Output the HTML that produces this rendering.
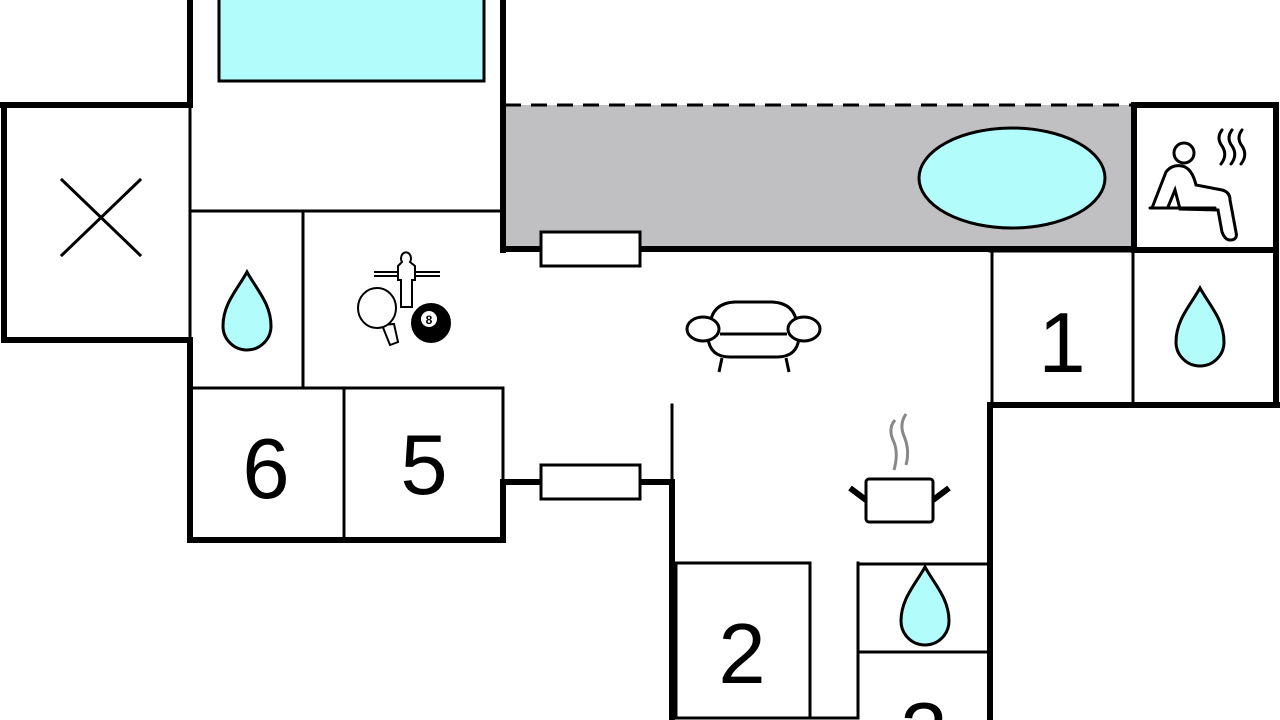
<!DOCTYPE html>
<html><head><meta charset="utf-8"><style>html,body{margin:0;padding:0;background:#fff;width:1280px;height:720px;overflow:hidden;}svg{display:block}</style></head>
<body>
<svg width="1280" height="720" viewBox="0 0 1280 720" xmlns="http://www.w3.org/2000/svg" font-family="Liberation Sans, sans-serif" overflow="hidden">
<defs>
<path id="drop" d="M0,-40 C10,-22 24,-8 24,14 A24,24 0 0 1 -24,14 C-24,-8 -10,-22 0,-40Z" fill="#b3fcfc" stroke="#000" stroke-width="3"/>
</defs>
<rect width="1280" height="720" fill="#fff"/>
<rect x="505" y="105" width="628" height="143" fill="#c0c0c2"/>
<line x1="505" y1="105" x2="1133" y2="105" stroke="#000" stroke-width="3" stroke-dasharray="16,10"/>
<ellipse cx="1012" cy="178" rx="93" ry="50" fill="#b3fcfc" stroke="#000" stroke-width="3"/>
<rect x="219" y="-5" width="265" height="86" fill="#b3fcfc" stroke="#000" stroke-width="3"/>
<g stroke="#000" fill="none" stroke-linecap="square">
<g stroke-width="6">
<line x1="190" y1="0" x2="190" y2="105"/>
<line x1="0" y1="105" x2="190" y2="105"/>
<line x1="4" y1="105" x2="4" y2="340"/>
<line x1="4" y1="340" x2="190" y2="340"/>
<line x1="190" y1="340" x2="190" y2="540"/>
<line x1="190" y1="540" x2="503" y2="540"/>
<line x1="503" y1="482" x2="503" y2="540"/>
<line x1="503" y1="482" x2="672" y2="482"/>
<line x1="672" y1="482" x2="672" y2="717"/>
<line x1="503" y1="0" x2="503" y2="250"/>
<line x1="503" y1="249" x2="1133" y2="249"/>
<rect x="1134" y="105" width="142" height="145"/>
<line x1="1276" y1="105" x2="1276" y2="405"/>
<line x1="990" y1="405" x2="1280" y2="405"/>
<line x1="990" y1="405" x2="990" y2="717"/>
</g>
<g stroke-width="3">
<line x1="190" y1="105" x2="190" y2="340"/>
<line x1="190" y1="211" x2="503" y2="211"/>
<line x1="303" y1="211" x2="303" y2="388"/>
<line x1="190" y1="388" x2="503" y2="388"/>
<line x1="344" y1="388" x2="344" y2="540"/>
<line x1="503" y1="388" x2="503" y2="482"/>
<line x1="672" y1="405" x2="672" y2="482"/>
<line x1="992" y1="250" x2="992" y2="405"/>
<line x1="1133" y1="250" x2="1133" y2="405"/>
<line x1="990" y1="251" x2="1276" y2="251"/>
<rect x="676" y="563" width="134" height="155"/>
<line x1="810" y1="718" x2="858" y2="718"/>
<line x1="858" y1="563" x2="858" y2="718"/>
<line x1="858" y1="564" x2="990" y2="564"/>
<line x1="858" y1="652" x2="990" y2="652"/>
<line x1="62" y1="180" x2="140" y2="255"/>
<line x1="140" y1="180" x2="62" y2="255"/>
</g>
</g>
<rect x="541" y="232" width="99" height="34" fill="#fff" stroke="#000" stroke-width="3"/>
<rect x="541" y="465" width="99" height="34" fill="#fff" stroke="#000" stroke-width="3"/>
<use href="#drop" x="247" y="312"/>
<use href="#drop" x="1200" y="328"/>
<use href="#drop" x="925" y="607"/>
<g font-size="85" text-anchor="middle" fill="#000">
<text x="1062" y="372">1</text>
<text x="266" y="498">6</text>
<text x="424" y="494">5</text>
<text x="742" y="683">2</text>
</g>
<svg x="860" y="654" width="128" height="66" viewBox="0 0 128 66" overflow="hidden">
<text x="64" y="108" font-size="85" text-anchor="middle" fill="#000" font-family="Liberation Sans, sans-serif">3</text>
</svg>
<g stroke="#000" stroke-width="3" fill="#fff">
<path d="M710,325 Q712,303 735,302 L772,302 Q795,303 797,325"/>
<path d="M708,338 Q710,357 730,357 L777,357 Q797,357 799,338"/>
<line x1="722" y1="358" x2="719" y2="372"/>
<line x1="786" y1="358" x2="789" y2="372"/>
<line x1="720" y1="334" x2="787" y2="334"/>
<ellipse cx="703" cy="329" rx="16" ry="12"/>
<ellipse cx="804" cy="329" rx="16" ry="12"/>
</g>
<g stroke="#000" fill="#fff">
<rect x="866" y="479" width="67" height="43" rx="3" stroke-width="3"/>
<line x1="850" y1="488" x2="866" y2="500" stroke-width="6"/>
<line x1="949" y1="488" x2="933" y2="500" stroke-width="6"/>
<path d="M895,420 Q888,428 893,440 Q899,452 894,470" fill="none" stroke="#888" stroke-width="3"/>
<path d="M906,414 Q899,424 904,436 Q910,450 906,465" fill="none" stroke="#888" stroke-width="3"/>
</g>
<g stroke="#000" stroke-width="2" fill="#fff">
<line x1="374" y1="272" x2="440" y2="272"/><line x1="374" y1="276" x2="440" y2="276"/>
<path d="M402,262 a5,6 0 1 1 8,0 l5,4 v14 h-3 v27 h-11 v-27 h-3 v-14z"/>
<path d="M382,325 l8,20 l8,-3 l-4,-18z"/>
<ellipse cx="377" cy="308" rx="19" ry="20"/>
<circle cx="431" cy="323" r="19" fill="#000"/>
<circle cx="429" cy="319" r="8" fill="#fff" stroke="none"/>
</g>
<text x="429" y="324" font-size="12" font-weight="bold" text-anchor="middle">8</text>
<g stroke="#000" stroke-width="3" fill="none" stroke-linecap="round">
<circle cx="1184" cy="153" r="10"/>
<path d="M1152,208 L1166,172 Q1172,164 1182,166 Q1192,168 1196,185 L1222,190 Q1230,192 1230,200 L1236,232 Q1238,240 1230,240 Q1225,240 1222,232 L1218,210 L1180,209 L1175,190 L1168,207"/>
<line x1="1150" y1="208" x2="1215" y2="208"/>
<path d="M1222,130 q-6,8 0,16 q6,9 -1,18"/>
<path d="M1232,130 q-6,8 0,16 q6,9 -1,18"/>
<path d="M1242,130 q-6,8 0,16 q6,9 -1,18"/>
</g>
</svg>
</body></html>
